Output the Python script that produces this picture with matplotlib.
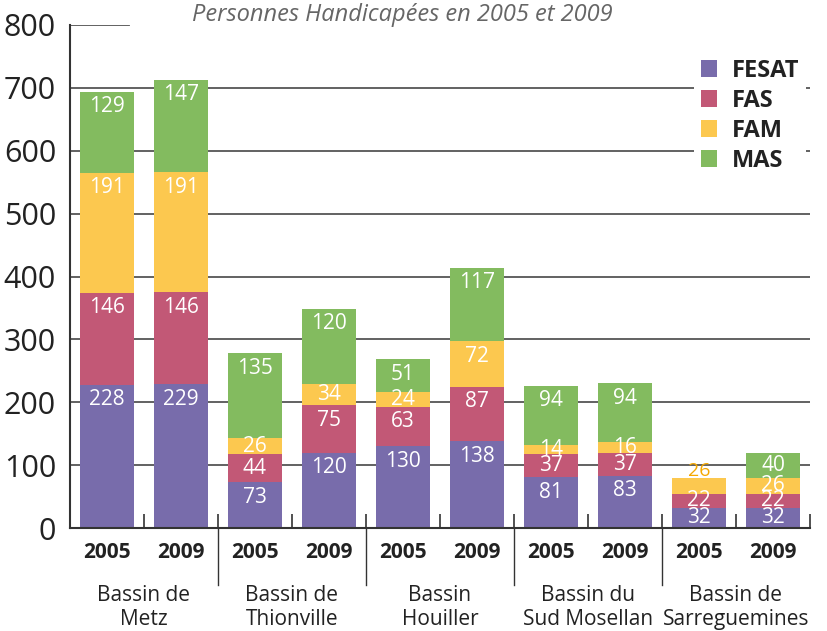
import numpy as np
import matplotlib.pyplot as plt
from matplotlib.patches import Patch

plt.rcParams['font.family'] = ['Open Sans', 'DejaVu Sans']

years = ['2005', '2009'] * 5
groups = ['Bassin de\nMetz', 'Bassin de\nThionville', 'Bassin\nHouiller',
          'Bassin du\nSud Mosellan', 'Bassin de\nSarreguemines']
fesat = [228, 229, 73, 120, 130, 138, 81, 83, 32, 32]
fas = [146, 146, 44, 75, 63, 87, 37, 37, 22, 22]
fam = [191, 191, 26, 34, 24, 72, 14, 16, 26, 26]
mas = [129, 147, 135, 120, 51, 117, 94, 94, 0, 40]

series = [('FESAT', fesat, '#786cab'),
          ('FAS', fas, '#c25876'),
          ('FAM', fam, '#fcc84f'),
          ('MAS', mas, '#83bb5f')]

fig = plt.figure(figsize=(8.28, 6.31), dpi=100)
ax = fig.add_axes([70/828, 103/631, 740/828, 503/631])

x = np.arange(10) + 0.5
ax.set_xlim(0, 10)
ax.set_ylim(0, 800)

# gridlines
for v in range(100, 800, 100):
    ax.axhline(v, color='#555555', lw=1.3, zorder=0)
ax.axhline(800, xmax=0.08, color='#555555', lw=1.3, zorder=0)

bottom = np.zeros(10)
for name, vals, col in series:
    vals = np.array(vals)
    ax.bar(x, vals, 0.72, bottom=bottom, color=col, edgecolor='none', zorder=2, label=name)
    for i in range(10):
        v = vals[i]
        if v == 0:
            continue
        top = bottom[i] + v
        ypos = max(top - 24, bottom[i] + v / 2)
        if name == 'FAM' and i == 8:
            ax.text(x[i], top + 10, str(v), ha='center', va='center',
                    color='#f5a800', fontsize=14, zorder=3)
        else:
            ax.text(x[i], ypos, str(v), ha='center', va='center',
                    color='white', fontsize=15, zorder=3)
    bottom = bottom + vals

for s in ['top', 'right']:
    ax.spines[s].set_visible(False)
ax.spines['left'].set_color('#333333')
ax.spines['bottom'].set_color('#333333')
ax.spines['left'].set_linewidth(1.5)
ax.spines['bottom'].set_linewidth(1.5)

ax.set_yticks(range(0, 900, 100))
ax.tick_params(axis='y', length=0, labelsize=22, labelcolor='#222222', pad=10)
ax.set_xticks([])
ax.set_xticks(np.arange(1, 11), minor=True)
ax.tick_params(axis='x', which='minor', direction='in', length=10, width=1.2, color='#333333')

# group separators
for g in [2, 4, 6, 8]:
    ax.plot([g, g], [0, -0.113], transform=ax.get_xaxis_transform(),
            color='#333333', lw=1, clip_on=False)

for i in range(10):
    ax.text(x[i], -0.048, years[i], transform=ax.get_xaxis_transform(),
            ha='center', va='center', fontsize=15, fontweight='bold', color='#222222')
for j, g in enumerate(groups):
    ax.text(2 * j + 1, -0.158, g, transform=ax.get_xaxis_transform(),
            ha='center', va='center', fontsize=15, color='#222222', linespacing=1.2)

fig.text(402/828, 1 - 15/631, 'Personnes Handicapées en 2005 et 2009',
         ha='center', va='center', fontsize=17, style='italic', color='#666666')

handles = [Patch(facecolor=c, edgecolor='none') for _, _, c in series]
leg = ax.legend(handles, [s[0] for s in series], loc='upper left',
                bbox_to_anchor=(682/828, 1 - 40/631), bbox_transform=fig.transFigure,
                frameon=True, facecolor='white', edgecolor='none', framealpha=1,
                fontsize=17, handlelength=0.7, handleheight=0.7, handletextpad=0.6,
                labelspacing=0.25, borderpad=0.3)
for t in leg.get_texts():
    t.set_fontweight('bold')
    t.set_color('#222222')

plt.savefig('out.png', dpi=100)
